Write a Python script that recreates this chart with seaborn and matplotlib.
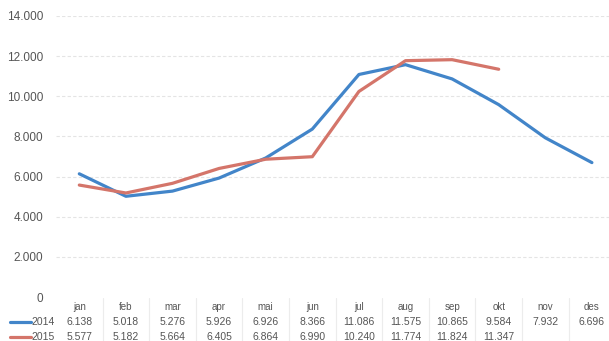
import matplotlib
matplotlib.use("Agg")
import matplotlib.pyplot as plt
from matplotlib.lines import Line2D
import matplotlib.transforms as mtransforms
import numpy as np
import pandas as pd
import seaborn as sns

months = ["jan", "feb", "mar", "apr", "mai", "jun", "jul", "aug", "sep", "okt", "nov", "des"]
values_2014 = [6138, 5018, 5276, 5926, 6926, 8366, 11086, 11575, 10865, 9584, 7932, 6696]
values_2015 = [5577, 5182, 5664, 6405, 6864, 6990, 10240, 11774, 11824, 11347]
series_names = ["2014", "2015"]
y_ticks = [0, 2000, 4000, 6000, 8000, 10000, 12000, 14000]

colors = {"2014": "#4285c9", "2015": "#d4756a"}
text_color = "#555555"

def fmt(v):
    return "0" if v == 0 else f"{v:,.0f}".replace(",", ".")

rows = []
for name, vals in zip(series_names, [values_2014, values_2015]):
    for i, v in enumerate(vals):
        rows.append({"idx": i, "month": months[i], "value": v, "year": name})
df = pd.DataFrame(rows)

sns.set_theme(style="white")
plt.rcParams["font.family"] = ["Liberation Sans", "DejaVu Sans"]

W, H = 609, 341
fig = plt.figure(figsize=(W / 100, H / 100), dpi=100)
left_px, bottom_px, top_px = 56, 297, 16
ax = fig.add_axes([left_px / W, (H - bottom_px) / H, (W - left_px) / W, (bottom_px - top_px) / H])

sns.lineplot(data=df, x="idx", y="value", hue="year", palette=colors,
             linewidth=2.3, legend=False, ax=ax, sort=True)

ax.set_xlim(-0.5, (W - left_px) / 46.6 - 0.5)
ax.set_ylim(0, 14000)
ax.set_yticks(y_ticks)
ax.set_yticklabels([fmt(v) for v in y_ticks], fontsize=8.5, color=text_color)
ax.tick_params(axis="y", length=0, pad=9)
ax.set_xticks([])
ax.set_xlabel("")
ax.set_ylabel("")
for s in ax.spines.values():
    s.set_visible(False)
for v in y_ticks[1:]:
    ax.axhline(v, color="#e4e4e4", lw=0.8, ls=(0, (3, 2)), zorder=0)

# Data table under the plot
trans = mtransforms.blended_transform_factory(ax.transData, fig.transFigure)
row_y = [(H - 307) / H, (H - 322) / H, (H - 337) / H]
for i, m in enumerate(months):
    ax.text(i, row_y[0], m, transform=trans, ha="center", va="center",
            fontsize=7, color=text_color, clip_on=False)
for r, vals in enumerate([values_2014, values_2015]):
    for i, v in enumerate(vals):
        ax.text(i, row_y[r + 1], fmt(v), transform=trans, ha="center", va="center",
                fontsize=7.5, color=text_color, clip_on=False)
for i in range(len(months) - 1):
    ax.add_line(Line2D([i + 0.5, i + 0.5], [0, (H - 298) / H], transform=trans,
                       color="#ececec", lw=0.8, clip_on=False))

for r, name in enumerate(series_names):
    y = row_y[r + 1]
    fig.add_artist(Line2D([10 / W, 31 / W], [y, y], color=colors[name], lw=2.3))
    fig.text(31 / W, y, name, ha="left", va="center", fontsize=7.5, color=text_color)

fig.savefig("out.png", dpi=100)
